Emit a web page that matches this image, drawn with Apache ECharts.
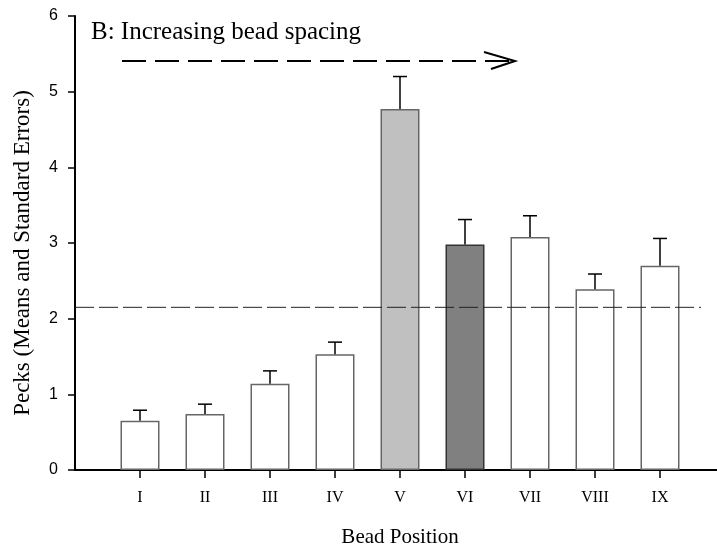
<!DOCTYPE html>
<html>
<head>
<meta charset="utf-8">
<script src="https://cdn.jsdelivr.net/npm/echarts@6/dist/echarts.min.js"></script>
<style>html,body{margin:0;padding:0;background:#fff;}#c{width:717px;height:546px;}</style>
</head>
<body>
<div id="c"></div>
<script>
const categories = ['', 'I', 'II', 'III', 'IV', 'V', 'VI', 'VII', 'VIII', 'IX', ''];
const means = [null, 0.65, 0.74, 1.14, 1.53, 4.77, 2.98, 3.08, 2.39, 2.70, null];
const stdErrors = [null, 0.14, 0.13, 0.17, 0.16, 0.43, 0.33, 0.28, 0.20, 0.36, null];
const barFills = [null, '#ffffff', '#ffffff', '#ffffff', '#ffffff', '#c0c0c0', '#808080', '#ffffff', '#ffffff', '#ffffff', null];
const yTicks = [0, 1, 2, 3, 4, 5, 6];
const referenceLevel = 2.15;
const referenceSpan = [0, 9.63];

const chart = echarts.init(document.getElementById('c'), null, {renderer: 'canvas'});

const barData = means.map((v, i) => v === null ? null : {
  value: v,
  itemStyle: {color: barFills[i], borderColor: i === 6 ? '#333' : '#666', borderWidth: 1.5}
});
const errData = [];
means.forEach((v, i) => { if (v !== null) errData.push([i, v, stdErrors[i]]); });

chart.setOption({
  animation: false,
  grid: {left: 75, top: 16, width: 650, height: 454, containLabel: false, outerBoundsMode: 'none'},
  xAxis: [{
    type: 'category',
    data: categories,
    boundaryGap: false,
    name: 'Bead Position',
    nameLocation: 'middle',
    nameGap: 57,
    nameTextStyle: {fontFamily: 'Liberation Serif', fontSize: 21, color: '#000'},
    axisLine: {lineStyle: {color: '#000', width: 2}},
    axisTick: {show: true, length: 8, lineStyle: {color: '#000', width: 1.5},
      interval: (idx, val) => val !== ''},
    axisLabel: {fontFamily: 'Liberation Serif', fontSize: 16, color: '#000', margin: 20,
      interval: 0},
    splitLine: {show: false}
  }, {
    type: 'value', min: 0, max: 10, show: false
  }],
  yAxis: {
    type: 'value',
    min: yTicks[0], max: yTicks[yTicks.length - 1], interval: 1,
    name: 'Pecks (Means and Standard Errors)',
    nameLocation: 'middle',
    nameGap: 41,
    nameTextStyle: {fontFamily: 'Liberation Serif', fontSize: 23, color: '#000', padding: [0, 20, 0, 0]},
    axisLine: {show: true, lineStyle: {color: '#000', width: 2}},
    axisTick: {show: true, length: 7, lineStyle: {color: '#000', width: 1.5}},
    axisLabel: {fontFamily: 'Liberation Sans', fontSize: 16, color: '#000', margin: 17},
    splitLine: {show: false}
  },
  series: [{
    type: 'bar',
    data: barData,
    barWidth: 39,
    z: 2
  }, {
    type: 'custom',
    data: errData,
    z: 3,
    renderItem: (params, api) => {
      const x = api.value(0), m = api.value(1), se = api.value(2);
      const p0 = api.coord([x, m]);
      const p1 = api.coord([x, m + se]);
      const half = 7;
      return {type: 'group', children: [
        {type: 'line', shape: {x1: p0[0], y1: p0[1], x2: p1[0], y2: p1[1]}, style: {stroke: '#000', lineWidth: 1.5}},
        {type: 'line', shape: {x1: p1[0] - half, y1: p1[1], x2: p1[0] + half, y2: p1[1]}, style: {stroke: '#000', lineWidth: 1.5}}
      ]};
    }
  }, {
    type: 'line',
    xAxisIndex: 1,
    data: [[referenceSpan[0], referenceLevel], [referenceSpan[1], referenceLevel]],
    symbol: 'none',
    lineStyle: {color: '#222', width: 1, type: [19, 5]},
    z: 4
  }],
  graphic: [{
    type: 'text', left: 91, top: 20,
    style: {text: 'B: Increasing bead spacing', font: '25px "Liberation Serif"', fill: '#000'}
  }, {
    type: 'line', shape: {x1: 122, y1: 61, x2: 514, y2: 61},
    style: {stroke: '#000', lineWidth: 2, lineDash: [24, 9]}
  }, {
    type: 'polyline', shape: {points: [[484, 52], [515, 61], [491, 69]]},
    style: {stroke: '#000', lineWidth: 2, fill: null}
  }]
});
</script>
</body>
</html>
